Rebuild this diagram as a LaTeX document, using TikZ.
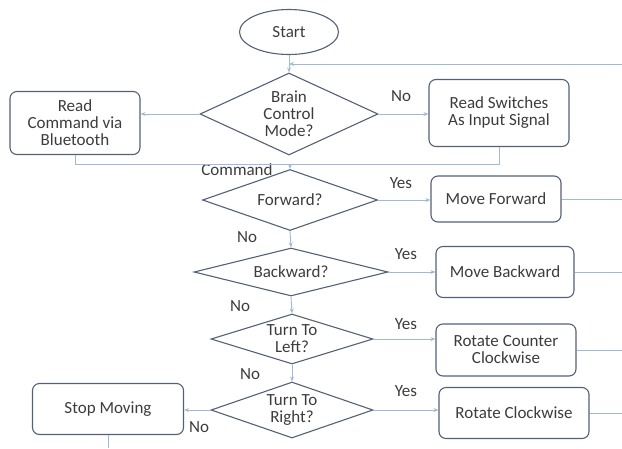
\documentclass[tikz,border=0pt]{standalone}
\usepackage{fontspec}
\setmainfont{Carlito}
\usetikzlibrary{shapes.geometric}
\usetikzlibrary{arrows.meta}
\definecolor{linecol}{RGB}{160,186,214}
\definecolor{edgecol}{RGB}{84,96,118}
\definecolor{textcol}{RGB}{60,60,60}

\begin{document}
\begin{tikzpicture}[
x=1pt, y=-1pt,
font=\fontsize{17}{17}\selectfont, text=textcol,
termnode/.style={ellipse, draw=edgecol, line width=1.1pt, inner sep=0pt},
decnode/.style={diamond, draw=edgecol, line width=1.1pt, inner sep=0pt, align=center},
procnode/.style={rectangle, rounded corners=7pt, draw=edgecol, line width=1.1pt, inner sep=0pt, align=center},
link/.style={draw=linecol, line width=0.9pt},
arr/.style={link, -{Stealth[length=5pt,width=4pt]}},
lbl/.style={inner sep=0pt},
]
\useasboundingbox (0,0) rectangle (622,448);

%Nodes
\node[termnode, minimum width=99pt, minimum height=45pt] (start) at (289,32) {Start};
\node[decnode, minimum width=178pt, minimum height=82pt, aspect=2.17] (brain) at (289,114) {Brain\\Control\\Mode?};
\node[procnode, minimum width=130pt, minimum height=63pt] (bt) at (75,123) {Read\\Command via\\Bluetooth};
\node[procnode, minimum width=140pt, minimum height=67pt] (sw) at (499,113) {Read Switches\\As Input Signal};
\node[decnode, minimum width=175pt, minimum height=61pt, aspect=2.87] (fwd) at (290,200) {Forward?};
\node[procnode, minimum width=130pt, minimum height=46pt] (mf) at (496,199) {Move Forward};
\node[decnode, minimum width=194pt, minimum height=48pt, aspect=4.04] (bwd) at (291,272) {Backward?};
\node[procnode, minimum width=138pt, minimum height=51pt] (mb) at (505,272) {Move Backward};
\node[decnode, minimum width=162pt, minimum height=50pt, aspect=3.24] (tl) at (292,339) {Turn To\\Left?};
\node[procnode, minimum width=140pt, minimum height=52pt] (rcc) at (506,350) {Rotate Counter\\Clockwise};
\node[decnode, minimum width=162pt, minimum height=56pt, aspect=2.9] (tr) at (292,410) {Turn To\\Right?};
\node[procnode, minimum width=151pt, minimum height=51pt] (sm) at (108,409) {Stop Moving};
\node[procnode, minimum width=150pt, minimum height=51pt] (rc) at (514,413) {Rotate Clockwise};

%Labels
\node[lbl] (cmd) at (237,170) {Command};
\node[lbl] (no1) at (401,96) {No};
\node[lbl] (yes1) at (401,183) {Yes};
\node[lbl] (no2) at (247,237) {No};
\node[lbl] (yes2) at (406,254) {Yes};
\node[lbl] (no3) at (240,306) {No};
\node[lbl] (yes3) at (406,324) {Yes};
\node[lbl] (no4) at (250,374) {No};
\node[lbl] (yes4) at (406,391) {Yes};
\node[lbl] (no5) at (199,427) {No};

%Coordinates
\coordinate (loopR) at (622,64);
\coordinate (loopJ) at (289,64);
\coordinate (joinJ) at (290,164);
\coordinate (btJ) at (75,164);
\coordinate (swJ) at (499,164);
\coordinate (mfR) at (622,199);
\coordinate (mbR) at (622,272);
\coordinate (rccR) at (622,350);
\coordinate (rcR) at (622,413);
\coordinate (smB) at (108,448);

%Lines
\draw[arr] (start) -- (brain);
\draw[arr] (loopR) -- (loopJ);
\draw[arr] (brain.west) -- (brain.west -| bt.east);
\draw[arr] (brain.east) -- (brain.east -| sw.west);
\draw[link] (bt.south) -- (btJ) -- (joinJ);
\draw[link] (sw.south) -- (swJ) -- (joinJ);
\draw[arr] (joinJ) -- (fwd.north);
\draw[arr] (fwd.east) -- (fwd.east -| mf.west);
\draw[link] (mf.east) -- (mfR);
\draw[arr] (fwd.south) -- (bwd.north);
\draw[arr] (bwd.east) -- (bwd.east -| mb.west);
\draw[link] (mb.east) -- (mbR);
\draw[arr] (bwd.south) -- (tl.north);
\draw[arr] (tl.east) -- (tl.east -| rcc.west);
\draw[link] (rcc.east) -- (rccR);
\draw[arr] (tl.south) -- (tr.north);
\draw[arr] (tr.east) -- (tr.east -| rc.west);
\draw[link] (rc.east) -- (rcR);
\draw[arr] (tr.west) -- (tr.west -| sm.east);
\draw[link] (sm.south) -- (smB);
\end{tikzpicture}
\end{document}
